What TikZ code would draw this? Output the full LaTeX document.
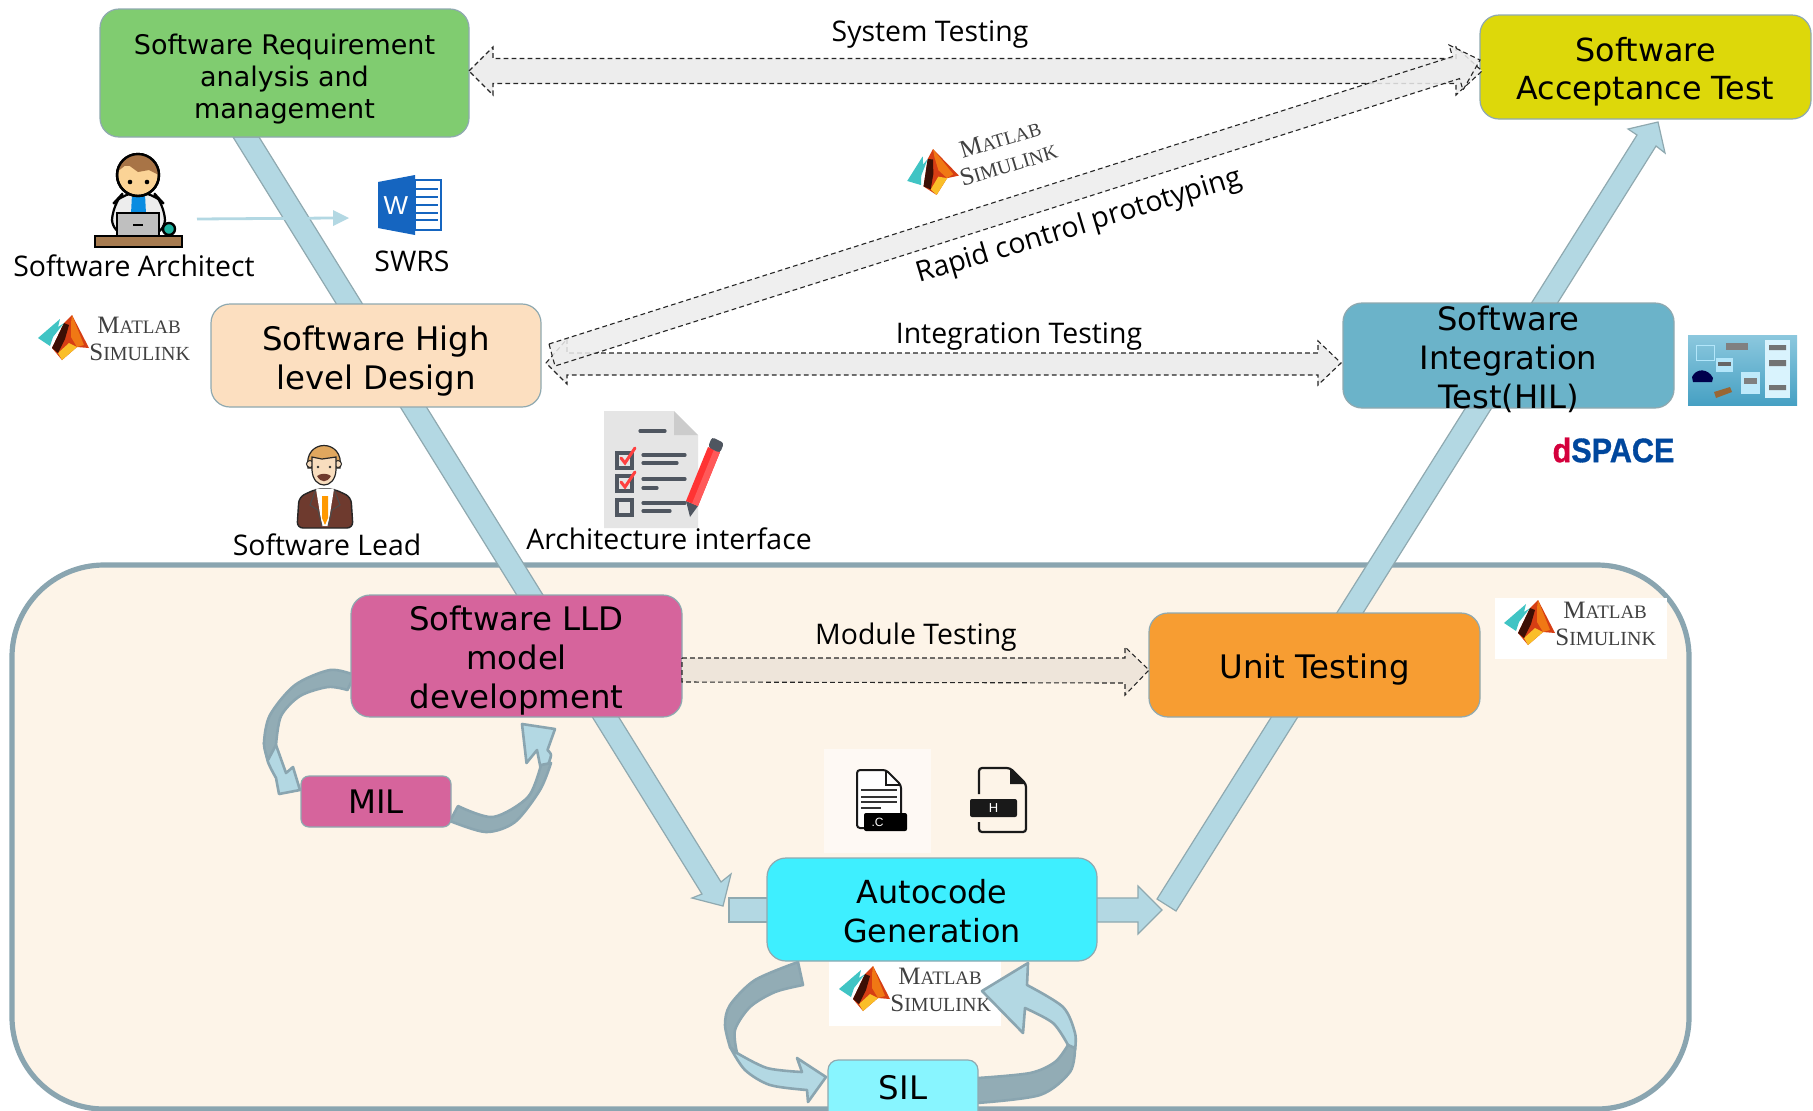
\documentclass[tikz,border=0pt]{standalone}
\usepackage{fontspec}
\setmainfont{DejaVu Sans}
\newfontfamily\labfont{Open Sans}
\newfontfamily\srffont{Liberation Serif}
\newfontfamily\logofont{Liberation Sans}
\newfontfamily\dspfont[UprightFont=* Bold,FakeBold=1]{Liberation Sans}
\usetikzlibrary{calc}
\definecolor{edgeg}{HTML}{8FA9B0}
\definecolor{bandf}{HTML}{B3D8E3}
\definecolor{bandd}{HTML}{8AA5B0}
\definecolor{darkr}{HTML}{92ACB5}
\definecolor{cream}{HTML}{FDF4E8}
\definecolor{greenb}{HTML}{80CC70}
\definecolor{yellowb}{HTML}{DDD80A}
\definecolor{peachb}{HTML}{FCDFC0}
\definecolor{tealb}{HTML}{6BB3C9}
\definecolor{pinkb}{HTML}{D6649C}
\definecolor{orangeb}{HTML}{F79D32}
\definecolor{cyanb}{HTML}{3EEFFF}
\definecolor{silb}{HTML}{88F5FF}
\definecolor{inkg}{HTML}{4F5660}
\newcommand{\bx}[2]{\raisebox{-#1}[0pt][0pt]{\begin{tabular}{@{}c@{}}#2\end{tabular}}}
\tikzset{
 procbox/.style={draw=edgeg,line width=.6pt,rounded corners=9.5pt,align=center,inner sep=0pt,outer sep=0pt,text=black},
 bt/.style={font=\fontsize{16.2}{19.5}\selectfont},
 labeltext/.style={font=\labfont\fontsize{14.2}{17}\selectfont,inner sep=0pt,text=black},
 vband/.style={fill=bandf,draw=edgeg,line width=.6pt,line join=miter},
 dasharrow/.style={draw=black!85,line width=.55pt,dash pattern=on 2.4pt off 1.6pt,fill=#1,line join=miter},
 dasharrow/.default={black!7},
 ribbonl/.style={fill=bandf,draw=bandd,line width=1.3pt,line join=round},
 ribbond/.style={fill=darkr,draw=bandd,line width=1.3pt,line join=round},
 matlablogo/.pic={
   \fill[fill={rgb,255:red,214;green,62;blue,20}] (0,0)--(17,33)--(5,32)--(-10,45)--(-20,33)--(-8,8)--cycle;
   \fill[fill={rgb,255:red,240;green,120;blue,20}] (0,0)--(12,30)--(5,32)--(-1,22)--(-1,8)--cycle;
   \fill[fill={rgb,255:red,250;green,190;blue,40}] (-10,45)--(5,32)--(-3,28)--(-14,38)--cycle;
   \fill[fill={rgb,255:red,60;green,15;blue,5}] (-8,8)--(-20,33)--(-14,38)--(-7,24)--(-3,10)--cycle;
   \fill[fill={rgb,255:red,64;green,196;blue,196}] (-34,23)--(-12,4)--(-14,12)--(-8,8)--(-19,22)--(-22,31)--cycle;
   \node[anchor=base west,inner sep=0pt,transform shape,text=black!75] (-mt) at (25,18) {\srffont\fontsize{12.5}{12}\selectfont M\fontsize{9.5}{12}\selectfont ATLAB};
   \node[anchor=base west,inner sep=0pt,transform shape,text=black!75] (-sm) at (17,45) {\srffont\fontsize{12.5}{12}\selectfont S\fontsize{10}{12}\selectfont IMULINK};
 }
}
\begin{document}
\begin{tikzpicture}[x=.5pt,y=-.5pt]
\useasboundingbox (0,0) rectangle (1813,1110);
\clip (0,0) rectangle (1813,1110);
\fill[white] (0,0) rectangle (1813,1110);
% container
\draw[draw=bandd,line width=2.6pt,fill=cream,rounded corners=46pt] (12,565) rectangle (1689,1109);
\node[minimum width=184.5pt,minimum height=64pt,inner sep=0pt,outer sep=0pt] (req0) at (284.5,73) {};
% V bands
\coordinate (reqS) at (req0.south);
\coordinate (autoW) at (767,909.5);
\coordinate (autoE) at (1097,909.5);
\coordinate (accS) at (1645.5,119);
\draw[vband] ($(reqS)+(-51.5,0)$) -- ($(reqS)+(-25.5,0)$) -- ($(autoW)+(-46,-27.5)$) -- ($(autoW)+(-36,-35.5)$) -- ($(autoW)+(-44,-3.5)$) -- ($(autoW)+(-75,-11.5)$) -- ($(autoW)+(-65,-15.5)$) -- cycle;
\draw[vband] ($(autoE)+(60,-10.5)$) -- ($(autoE)+(79,1.5)$) -- ($(accS)+(10.5,27)$) -- ($(accS)+(19.5,34)$) -- ($(accS)+(12.5,3)$) -- ($(accS)+(-17.5,10)$) -- ($(accS)+(-8.5,16)$) -- cycle;
\draw[vband] ($(autoW)+(2,-11.5)$) -- ($(autoW)+(-38,-11.5)$) -- ($(autoW)+(-38,12.5)$) -- ($(autoW)+(2,12.5)$);
\draw[vband] ($(autoE)+(-2,-11.5)$) -- ($(autoE)+(41,-11.5)$) -- ($(autoE)+(41,-23.5)$) -- ($(autoE)+(65,0.5)$) -- ($(autoE)+(41,24.5)$) -- ($(autoE)+(41,12.5)$) -- ($(autoE)+(-2,12.5)$);
% logos
\pic at (72,315) {matlablogo};
\fill[white] (1495,598) rectangle (1667,659);
\pic at (1538,600) {matlablogo};
\fill[white] (829,960) rectangle (1001,1026);
\pic at (873,966) {matlablogo};
\begin{scope}[shift={(933,149)},rotate=17]
\pic[transform shape] at (0,0) {matlablogo};
\end{scope}
% Architect
\coordinate (archout) at (197,219);
\coordinate (swrsin) at (349,218);
\draw[black,line width=1.1pt,fill=black!7,rounded corners=8pt] (112,235)--(112,205)--(124,192)--(153,192)--(165,205)--(165,235)--cycle;
\fill[fill={rgb,255:red,10;green,140;blue,225}] (132,194)--(145,194)--(146,214)--(131,214)--cycle;
\draw[black,line width=1.2pt,fill={rgb,255:red,251;green,211;blue,150}] (138,175) circle (21);
\begin{scope}
\clip (138,175) circle (21);
\fill[fill={rgb,255:red,168;green,116;blue,70}] (115,150) rectangle (161,166);
\fill[fill={rgb,255:red,168;green,116;blue,70}] (117,172)--(127,164)--(138,172)--(149,170)--(161,176)--(161,160)--(117,160)--cycle;
\end{scope}
\draw[black,line width=1.2pt] (138,175) circle (21);
\fill[black] (130,182) circle (2.3) (147,182) circle (2.3);
\draw[black,line width=1.1pt,fill=black!25] (117,213) rectangle (159,236);
\draw[black,line width=1.1pt] (133,225)--(143,225);
\draw[black,line width=1.2pt,fill={rgb,255:red,30;green,180;blue,160}] (169,229) circle (6);
\draw[black,line width=1.3pt,fill={rgb,255:red,166;green,123;blue,80}] (95,236) rectangle (182,247);
% Word
\definecolor{wordb}{HTML}{1565C0}
\draw[wordb,line width=.9pt,fill=white] (415,180) rectangle (441,230);
\foreach \yy in {189,197,205,213,220} \draw[wordb,line width=1.1pt] (415,\yy)--(438,\yy);
\fill[wordb] (378,182)--(415,175)--(415,235)--(378,228)--cycle;
\node[inner sep=0pt,text=white] (wordw) at (396,206) {\logofont\fontsize{13}{13}\selectfont W};
% thin arrow
\draw[bandf,line width=1.4pt] (archout) -- ($(swrsin)+(-16,0)$);
\fill[bandf] (swrsin) -- ++(-16,-8) -- ++(0,16) -- cycle;
% labels
\node[labeltext] (larch) at (134,266) {Software Architect};
\node[labeltext] (lswrs) at (412,261) {SWRS};
\node[labeltext] (llead) at (327,545) {Software Lead};
\node[labeltext] (larif) at (669,539) {Architecture interface};
\node[labeltext] (lsys) at (930,34) {System Testing};
\node[labeltext] (lint) at (1019,336) {Integration Testing};
\node[labeltext] (lmod) at (916,637) {Module Testing};
\node[labeltext,rotate=16.8] (lrcp) at (1079,227) {Rapid control prototyping};
% Lead
\definecolor{suitc}{HTML}{6E3A2E}
\definecolor{hairc}{HTML}{E0A75E}
\definecolor{skinc}{HTML}{F8DDBE}
\draw[black!85,line width=.7pt,fill=suitc,rounded corners=3pt] (297,528)--(299,497)--(316,489)--(334,489)--(351,497)--(353,528)--cycle;
\fill[white] (316,489)--(334,489)--(328,526)--(322,526)--cycle;
\fill[orange!80!yellow] (322,496)--(328,496)--(328,518)--(325,525)--(322,518)--cycle;
\draw[black!70,line width=.5pt] (316,489)--(310,505)--(318,510)--(322,526) (334,489)--(340,505)--(332,510)--(328,526);
\draw[black!85,line width=.6pt,fill=hairc] (308,468) .. controls (303,438) and (345,438) .. (340,468) -- cycle;
\draw[black!85,line width=.5pt,fill=skinc] (310,464) circle (3.5) (338,464) circle (3.5);
\draw[black!85,line width=.6pt,fill=skinc] (312,457) -- (312,470) .. controls (313,490) and (335,490) .. (336,470) -- (336,457) -- (322,459) -- cycle;
\fill[black!80] (318,467) circle (1.3) (330,467) circle (1.3);
\fill[suitc] (317,476) .. controls (321,483) and (327,483) .. (331,476) .. controls (327,473) and (321,473) .. (317,476) -- cycle;
% Checklist
\fill[black!10] (604,411)--(674,411)--(698,435)--(698,528)--(604,528)--cycle;
\fill[black!20] (674,411)--(698,435)--(674,435)--cycle;
\draw[inkg,line width=1.6pt,line cap=round] (640,431)--(665,431);
\draw[inkg,line width=1.8pt] (617,453) rectangle (632,468) (617,476) rectangle (632,491) (617,500) rectangle (632,515);
\foreach \a/\b/\yy in {643/685/455,643/677/463,643/685/479,643/657/488,643/685/503,643/670/511} \draw[inkg,line width=1.6pt,line cap=round] (\a,\yy)--(\b,\yy);
\draw[red!75!white,line width=1.5pt,line cap=round] (621,458)--(625,463)--(635,448);
\draw[red!75!white,line width=1.5pt,line cap=round] (621,482)--(625,487)--(635,472);
\fill[inkg] (690,517)--(686,501)--(698,506)--cycle;
\fill[red!80!white] (686,501)--(708,447)--(720,452)--(698,506)--cycle;
\fill[red!65!white] (692,503.5)--(714,449.5)--(720,452)--(698,506)--cycle;
\fill[inkg,rounded corners=1.5pt] (708,447)--(712,437)--(724,443)--(720,453)--cycle;
% c / h files
\fill[white!50!cream] (824,749) rectangle (931,853);
\draw[black!90,line width=1pt,fill=white,rounded corners=1.5pt] (857,770)--(886,770)--(901,785)--(901,828)--(857,828)--cycle;
\draw[black!90,line width=.8pt] (886,770)--(886,785)--(901,785);
\foreach \yy in {790,797,802} \draw[black!80,line width=.9pt] (861,\yy)--(897,\yy);
\draw[black!80,line width=.9pt] (861,808)--(881,808);
\node[fill=black,text=white,inner sep=0pt,minimum width=21.5pt,minimum height=9pt,rounded corners=1pt,font=\logofont\fontsize{6}{6}\selectfont] (cfile) at (885.5,822) {\hspace*{-8pt}.C};
\draw[black!90,line width=1.1pt,rounded corners=1.5pt] (979,794)--(979,768)--(1010,768)--(1026,784)--(1026,832)--(979,832)--(979,822);
\fill[black!90] (1010,768)--(1026,784)--(1010,784)--cycle;
\node[fill=black!90,text=white,inner sep=0pt,minimum width=23.5pt,minimum height=9pt,rounded corners=1pt,font=\logofont\fontsize{6.5}{6.5}\selectfont] (hfile) at (993.5,808) {H};
% HIL picture
\shade[top color={rgb,255:red,140;green,200;blue,222},bottom color={rgb,255:red,70;green,160;blue,195}] (1688,335) rectangle (1797,405);
\fill[white!85!cyan] (1765,340) rectangle (1790,398);
\fill[black!55] (1769,345) rectangle (1786,350) (1769,360) rectangle (1786,366) (1769,385) rectangle (1786,390);
\fill[white!75!cyan] (1741,372) rectangle (1760,394);
\fill[black!50] (1744,378) rectangle (1757,384);
\fill[white!70!cyan] (1716,358) rectangle (1733,372);
\fill[black!60] (1718,362) rectangle (1731,366);
\fill[black!50!white] (1726,343) rectangle (1748,350);
\draw[white!70!cyan,line width=.5pt] (1696,345) rectangle (1714,360);
\fill[black!70!blue] (1692,377) .. controls (1696,368) and (1708,368) .. (1713,378) -- (1712,382) -- (1693,382) -- cycle;
\fill[brown!80!black] (1714,392) -- (1730,387) -- (1732,392) -- (1716,398) -- cycle;
% dSPACE
\node[inner sep=0pt] (dsp) at (1613.5,450) {\scalebox{.9}[1]{\dspfont\fontsize{17}{17}\selectfont\textcolor[HTML]{D4003C}{d}\textcolor[HTML]{00479D}{SPACE}}};
% curved arrows
\draw[ribbonl] plot[smooth] coordinates {(264,743) (268,762) (276,778)} -- (279,794) -- (300,790) -- (293,767) -- (286,773) -- (276,745) -- cycle;
\draw[ribbond] plot[smooth] coordinates {(354.5,675) (330,670) (295,685) (270,715) (264,743) (268,760)} -- plot[smooth] coordinates {(276,745) (281,716) (300,696) (328,687) (347.5,690)} -- cycle;
\draw[ribbonl] plot[smooth] coordinates {(548,765) (551,755) (547.5,750)} -- (555,729) -- (522,724) -- (526.5,763) -- (537,750) -- (541,770) -- cycle;
\draw[ribbond] plot[smooth] coordinates {(450,821) (486,832) (515,822) (540,790) (551,763)} -- plot[smooth] coordinates {(541,765) (528,797) (493,817) (458,806)} -- cycle;
\draw[ribbonl] plot[smooth] coordinates {(730,1047) (745,1070) (770,1085) (807,1090)} -- (808,1102) -- (826,1077) -- (797,1058) -- plot[smooth] coordinates {(802,1072) (767,1068) (737,1053)} -- cycle;
\draw[ribbond] plot[smooth] coordinates {(798,962) (755,980) (730,1005) (725,1025) (730,1047)} -- plot[smooth] coordinates {(737,1053) (735,1030) (750,1007) (775,992) (803,985)} -- cycle;
\draw[ribbonl] plot[smooth] coordinates {(1075,1050) (1075,1033) (1063,1007) (1027,985)} -- (1028,963) -- (982,991) -- (1023,1033) -- plot[smooth] coordinates {(1025,1008) (1053,1023) (1068,1045)} -- cycle;
\draw[ribbond] plot[smooth] coordinates {(978,1078) (1030,1073) (1055,1062) (1068,1045)} -- plot[smooth] coordinates {(1075,1048) (1070,1072) (1040,1095) (977,1103)} -- cycle;
% boxes
\node[procbox,fill=greenb,minimum width=184.5pt,minimum height=64pt,font=\fontsize{13.5}{16}\selectfont] (req) at (284.5,73) {\bx{7.2pt}{Software Requirement\\analysis and\\management}};
\node[procbox,fill=yellowb,minimum width=165.5pt,minimum height=52pt,font=\fontsize{15.9}{19}\selectfont] (acc) at (1645.5,67) {\bx{7.5pt}{Software\\Acceptance Test}};
\node[procbox,bt,fill=peachb,minimum width=165pt,minimum height=51.5pt] (hld) at (376,355.5) {\bx{7.6pt}{Software High\\level Design}};
\node[procbox,bt,fill=tealb,minimum width=165.5pt,minimum height=52.5pt,font=\fontsize{16.1}{19.3}\selectfont] (int) at (1508.5,355.5) {\bx{7.5pt}{Software\\Integration\\Test(HIL)}};
\node[procbox,bt,fill=pinkb,minimum width=165.5pt,minimum height=61pt] (lld) at (516.5,656) {\bx{7pt}{Software LLD\\model\\development}};
\node[procbox,bt,fill=pinkb,minimum width=75pt,minimum height=25.5pt,rounded corners=4pt] (mil) at (376,801.5) {\bx{6.5pt}{MIL}};
\node[procbox,bt,fill=orangeb,minimum width=165.5pt,minimum height=52pt] (unit) at (1314.5,665) {\bx{7pt}{Unit Testing}};
\node[procbox,fill=cyanb,minimum width=165pt,minimum height=51.5pt,font=\fontsize{15.9}{19.5}\selectfont] (auto) at (932,909.5) {\bx{7.4pt}{Autocode\\Generation}};
\node[procbox,bt,fill=silb,minimum width=75pt,minimum height=32.5pt,rounded corners=5pt] (sil) at (903,1092.5) {\bx{3.8pt}{SIL}};
% dashed block arrows
\coordinate (sysL) at ($(req.east)+(0,-2)$);
\coordinate (sysR) at ($(acc.west)+(2,4)$);
\draw[dasharrow] (sysL) -- ++(24,-24) -- ++(0,11.5) -- ($(sysR)+(-26,-12.5)$) -- ++(0,-11.5) -- (sysR) -- ++(-26,24) -- ++(0,-11.5) -- ($(sysL)+(24,12.5)$) -- ++(0,11.5) -- cycle;
\coordinate (intL) at ($(hld.east)+(5,7.5)$);
\coordinate (intR) at ($(int.west)+(-2,7.5)$);
\draw[dasharrow] (intL) -- ++(21,-24) -- ++(0,14) -- ($(intR)+(-23,-10)$) -- ++(0,-12) -- (intR) -- ++(-23,22) -- ++(0,-10) -- ($(intL)+(21,12)$) -- ++(0,9) -- cycle;
\coordinate (modL) at ($(lld.east)+(0,2)$);
\coordinate (modR) at ($(unit.west)+(0,5)$);
\draw[dasharrow={black!6!cream}] (modL) -- ($(modR)+(-24,-12)$) -- ++(0,-11) -- (modR) -- ++(-24,25) -- ++(0,-12) -- ($(modL)+(0,24)$) -- cycle;
\coordinate (rcpL) at ($(hld.east)+(8,-11.5)$);
\coordinate (rcpR) at ($(acc.west)+(0,-7)$);
\draw[dasharrow,fill opacity=.85] (rcpL) -- ($(rcpR)+(-27.5,-3.4)$) -- ++(-3.5,-11.6) -- (rcpR) -- ++(-17,30) -- ++(-3.5,-11.4) -- ($(hld.east)+(14,10.5)$) -- cycle;
\end{tikzpicture}
\end{document}
